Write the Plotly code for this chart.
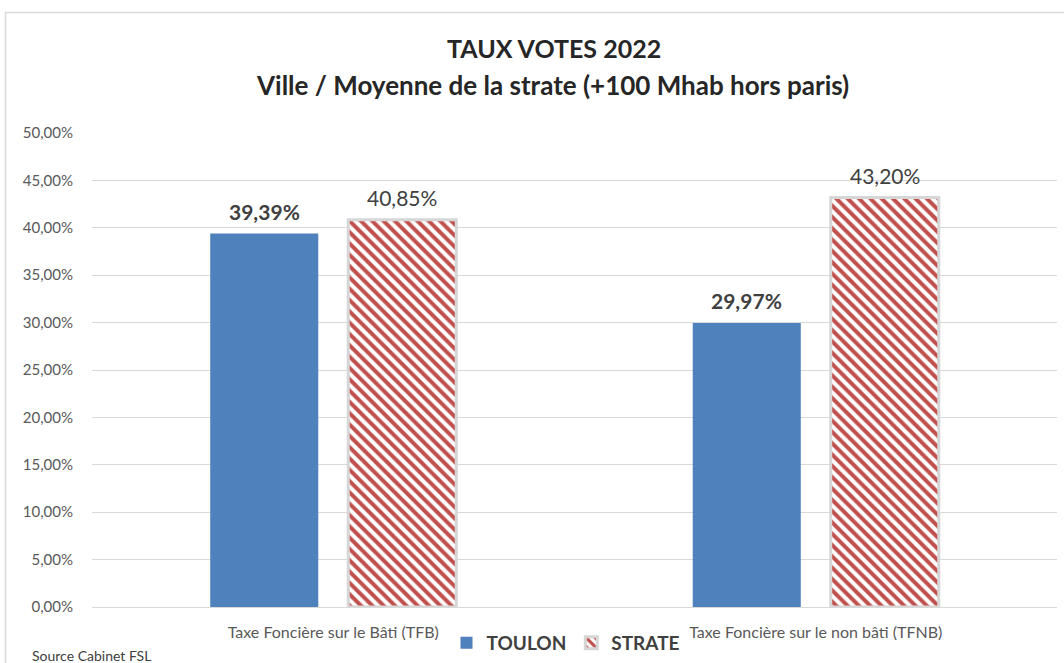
import plotly.graph_objects as go

# Voted property-tax rates 2022: city vs. stratum average
categories = ["Taxe Foncière sur le Bâti (TFB)", "Taxe Foncière sur le non bâti (TFNB)"]
toulon = [0.3939, 0.2997]
strate = [0.4085, 0.4320]
y_ticks = [0, 0.05, 0.10, 0.15, 0.20, 0.25, 0.30, 0.35, 0.40, 0.45, 0.50]

W, H = 1064, 663
L, R, T, B = 92, 7, 133, 56
pw, ph = W - L - R, H - T - B


def px_x(x):
    return (x - L) / pw


def px_y(y):
    return (H - B - y) / ph


font = "Lato, 'Open Sans', sans-serif"
label_color = "#404040"

fig = go.Figure()
fig.add_trace(go.Bar(
    name="TOULON", x=categories, y=toulon,
    marker=dict(color="#4f81bd", line=dict(width=0)),
))
fig.add_trace(go.Bar(
    name="STRATE", x=categories, y=strate,
    marker=dict(
        color="white",
        line=dict(color="#d6d6d6", width=3),
        pattern=dict(shape="\\", fgcolor="#c0504d", bgcolor="white",
                     fgopacity=1, size=8, solidity=0.5, fillmode="replace"),
    ),
))

# value labels above each bar (bold for the city, regular for the stratum)
annotations = []
for cat, v in zip(categories, toulon):
    annotations.append(dict(
        x=cat, y=v, xref="x", yref="y", xshift=-69, yshift=22,
        text="<b>" + f"{v * 100:.2f}".replace(".", ",") + "%</b>",
        showarrow=False, xanchor="center", yanchor="middle",
        font=dict(size=21, color=label_color)))
for cat, v in zip(categories, strate):
    annotations.append(dict(
        x=cat, y=v, xref="x", yref="y", xshift=69, yshift=22,
        text=f"{v * 100:.2f}".replace(".", ",") + "%",
        showarrow=False, xanchor="center", yanchor="middle",
        font=dict(size=21, color=label_color)))

annotations += [
    dict(text="<b>TAUX VOTES 2022</b>", xref="paper", yref="paper",
         x=px_x(554), y=px_y(48), xanchor="center", yanchor="middle",
         showarrow=False, font=dict(size=25, color="#262626")),
    dict(text="<b>Ville / Moyenne de la strate (+100 Mhab hors paris)</b>",
         xref="paper", yref="paper",
         x=px_x(552), y=px_y(85), xanchor="center", yanchor="middle",
         showarrow=False, font=dict(size=26, color="#262626")),
    dict(text="Source Cabinet FSL", xref="paper", yref="paper",
         x=px_x(30), y=px_y(655), xanchor="left", yanchor="middle",
         showarrow=False, font=dict(size=14, color=label_color)),
]

fig.update_layout(
    width=W, height=H,
    margin=dict(l=L, r=R, t=T, b=B, autoexpand=False),
    paper_bgcolor="white", plot_bgcolor="white",
    separators=", ",
    barmode="group", bargap=0.428, bargroupgap=0.217,
    font=dict(family=font, color="#595959"),
    showlegend=True,
    legend=dict(
        orientation="h", xref="container", yref="container",
        x=566 / W, xanchor="center",
        y=(H - 643) / H, yanchor="middle",
        font=dict(size=19, color=label_color, family=font, weight="bold"),
        itemwidth=30, traceorder="normal", bgcolor="rgba(0,0,0,0)",
    ),
    xaxis=dict(
        showgrid=False, showline=False, ticks="", automargin=False,
        tickfont=dict(size=16, color="#595959"),
        ticklabelstandoff=14,
    ),
    yaxis=dict(
        range=[0, 0.5], tickvals=y_ticks, tickformat=".2%", automargin=False,
        showgrid=True, gridcolor="#d9d9d9", gridwidth=1,
        zeroline=True, zerolinecolor="#d9d9d9", zerolinewidth=1,
        tickfont=dict(size=15, color="#595959"),
        ticklabelstandoff=18,
    ),
    annotations=annotations,
    shapes=[
        dict(type="rect", xref="paper", yref="paper",
             x0=px_x(5.5), x1=px_x(1075), y0=px_y(690), y1=px_y(12.5),
             line=dict(color="#d9d9d9", width=1.5), fillcolor="rgba(0,0,0,0)",
             layer="below"),
    ],
)

fig.write_html("out.html")
